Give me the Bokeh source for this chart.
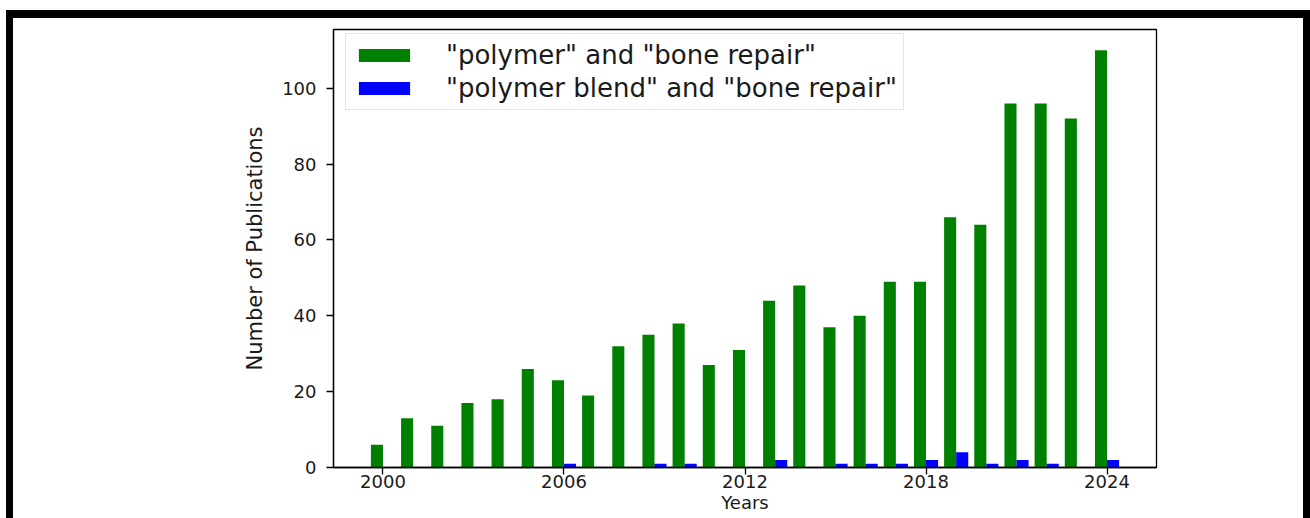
from bokeh.plotting import figure
from bokeh.models import Range1d, FixedTicker, ColumnDataSource
from bokeh.transform import dodge
from bokeh.embed import file_html
from bokeh.resources import INLINE

years = list(range(2000, 2025))
polymer_bone = [6, 13, 11, 17, 18, 26, 23, 19, 32, 35, 38, 27, 31, 44, 48,
                37, 40, 49, 49, 66, 64, 96, 96, 92, 110]
blend_bone = [0, 0, 0, 0, 0, 0, 1, 0, 0, 1, 1, 0, 0, 2, 0,
              1, 1, 1, 2, 4, 1, 2, 1, 0, 2]
x_ticks = [2000, 2006, 2012, 2018, 2024]
y_ticks = [0, 20, 40, 60, 80, 100]
series_labels = ['"polymer" and "bone repair"', '"polymer blend" and "bone repair"']
x_label = "Years"
y_label = "Number of Publications"

src = ColumnDataSource(dict(year=years, a=polymer_bone, b=blend_bone))

FONT = "DejaVu Sans"
TXT = "#1a1a1a"

# outer black frame of the picture, painted as CSS backgrounds behind a transparent canvas
frame_css = (
    "linear-gradient(#000,#000) 6px 10px / 7px 508px no-repeat, "
    "linear-gradient(#000,#000) 6px 10px / 1304px 8px no-repeat, "
    "linear-gradient(#000,#000) 1303px 10px / 7px 508px no-repeat, "
    "#ffffff"
)

p = figure(width=1310, height=518, output_backend="svg", toolbar_location=None,
           x_range=Range1d(1998.36, 2025.64), y_range=Range1d(0, 115.5),
           min_border_left=333, min_border_right=154, min_border_top=29,
           min_border_bottom=51, styles={"background": frame_css})
p.background_fill_color = "white"
p.border_fill_color = None
p.grid.visible = False
p.outline_line_color = "black"
p.outline_line_width = 1.3

p.vbar(x=dodge("year", -0.2, range=p.x_range), top="a", width=0.4, source=src,
       fill_color="green", line_color=None, legend_label=series_labels[0])
p.vbar(x=dodge("year", 0.2, range=p.x_range), top="b", width=0.4, source=src,
       fill_color="blue", line_color=None, legend_label=series_labels[1])

for ax in (p.xaxis[0], p.yaxis[0]):
    ax.axis_line_color = "black"
    ax.axis_line_width = 1.3
    ax.major_tick_line_color = "black"
    ax.major_tick_line_width = 1.3
    ax.major_tick_out = 7
    ax.major_tick_in = 0
    ax.minor_tick_line_color = None
    ax.major_label_text_font = FONT
    ax.major_label_text_font_size = "18px"
    ax.major_label_text_color = TXT
    ax.axis_label_text_font = FONT
    ax.axis_label_text_font_style = "normal"
    ax.axis_label_text_color = TXT

p.xaxis.ticker = FixedTicker(ticks=x_ticks)
p.yaxis.ticker = FixedTicker(ticks=y_ticks)
p.xaxis.axis_label = x_label
p.yaxis.axis_label = y_label
p.xaxis.axis_label_text_font_size = "18px"
p.yaxis.axis_label_text_font_size = "21px"
p.xaxis.major_label_standoff = 0
p.xaxis.axis_label_standoff = 1
p.yaxis.major_label_standoff = 10
p.yaxis.axis_label_standoff = 12

lg = p.legend[0]
lg.location = (12, 357)
lg.padding = 6
lg.spacing = 3
lg.glyph_width = 64
lg.glyph_height = 16
lg.label_height = 28
lg.label_standoff = 30
lg.label_text_font = FONT
lg.label_text_font_size = "26px"
lg.label_text_color = TXT
lg.border_line_color = "#cccccc"
lg.border_line_width = 1.5
lg.background_fill_alpha = 0.8

open("out.html", "w").write(file_html(p, INLINE))
